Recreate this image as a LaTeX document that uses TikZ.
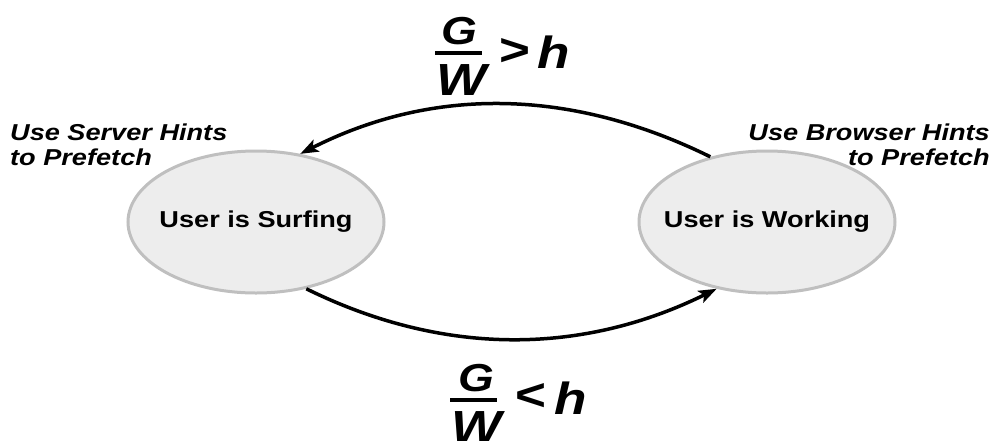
\documentclass[tikz,border=0pt]{standalone}
\usepackage{fontspec}
\setmainfont{Liberation Sans}[FakeStretch=1.18]
\usetikzlibrary{shapes.geometric,arrows.meta}
\begin{document}
\begin{tikzpicture}[x=1pt,y=-1pt,
  state/.style={ellipse,draw=black!25,fill=black!7,line width=3pt,inner xsep=-40pt,inner ysep=0pt,
    minimum width=256pt,minimum height=142pt,
    font=\fontsize{23}{25}\selectfont\bfseries},
  hint/.style={inner sep=0pt,font=\fontsize{23}{25}\selectfont\bfseries\itshape},
  trans/.style={line width=3.5pt,-{Stealth[length=18pt,width=13pt,inset=4pt]}},
  big/.style={inner sep=0pt,anchor=base,font=\fontsize{45}{45}\selectfont\bfseries\itshape},
  small/.style={inner sep=0pt,anchor=base,font=\fontsize{39}{39}\selectfont\bfseries\itshape},
  bar/.style={fill=black,inner sep=0pt,minimum width=47pt,minimum height=4.5pt}]
\useasboundingbox (0,0) rectangle (1005,440);

\node[state] (S) at (256,222) {User is Surfing};
\node[state] (W) at (767,222) {User is Working};

\node[hint,anchor=base west,align=left] (hs) at (10,165) {Use Server Hints\\to Prefetch};
\node[hint,anchor=base east,align=right] (hw) at (990,165) {Use Browser Hints\\to Prefetch};

\draw[trans] (W.131) .. controls +(-136,-67) and +(136,-69) .. (S.57);
\draw[trans] (S.-53) .. controls +(136,67) and +(-136,67) .. (W.-127);

% top label
\node[small] (g1) at (459,44) {G};
\node[bar] (b1) at (458.5,53) {};
\node[big] (w1) at (462,95) {W};
\node[big] (gt) at (514,65) {>};
\node[big,anchor=base west] (h1) at (537,68) {h};

% bottom label
\node[small] (g2) at (476,391) {G};
\node[bar] (b2) at (473.5,400) {};
\node[big] (w2) at (477,442) {W};
\node[big] (lt) at (530,410) {<};
\node[big,anchor=base west] (h2) at (554,414) {h};
\end{tikzpicture}
\end{document}
